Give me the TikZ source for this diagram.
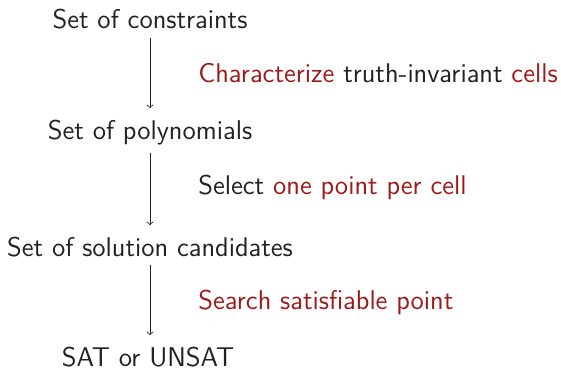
\documentclass[tikz,border=0pt]{standalone}
\usepackage{fontspec}
\renewcommand{\familydefault}{\sfdefault}
\definecolor{accent}{RGB}{155,27,27}
\definecolor{ink}{RGB}{34,34,34}
\begin{document}
\begin{tikzpicture}[x=0.5pt,y=-0.5pt,
  font=\sffamily\fontsize{13.55}{16}\selectfont,
  stage/.style={inner sep=0pt,anchor=base,text=ink},
  note/.style={inner sep=0pt,anchor=base west,text=ink},
  flow/.style={->,draw=ink,line width=0.4pt,shorten <=4pt,shorten >=5.5pt}]
\useasboundingbox (0,0) rectangle (561,369);
\node[stage] (cons) at (150,29) {Set of constraints};
\node[stage] (poly) at (150,139) {Set of polynomials};
\node[stage] (cand) at (150,256) {Set of solution candidates};
\node[stage] (res)  at (148,366) {SAT or UNSAT};
\draw[flow] (cons) -- (cons |- poly.north);
\draw[flow] (poly) -- (poly |- cand.north);
\draw[flow] (cand) -- (cand |- res.north);
\node[note] (l1) at (198,83) {\textcolor{accent}{Characterize} truth-invariant \textcolor{accent}{cells}};
\node[note] (l2) at (198,194) {Select \textcolor{accent}{one point per cell}};
\node[note] (l3) at (198,309) {\textcolor{accent}{Search satisfiable point}};
\end{tikzpicture}
\end{document}
